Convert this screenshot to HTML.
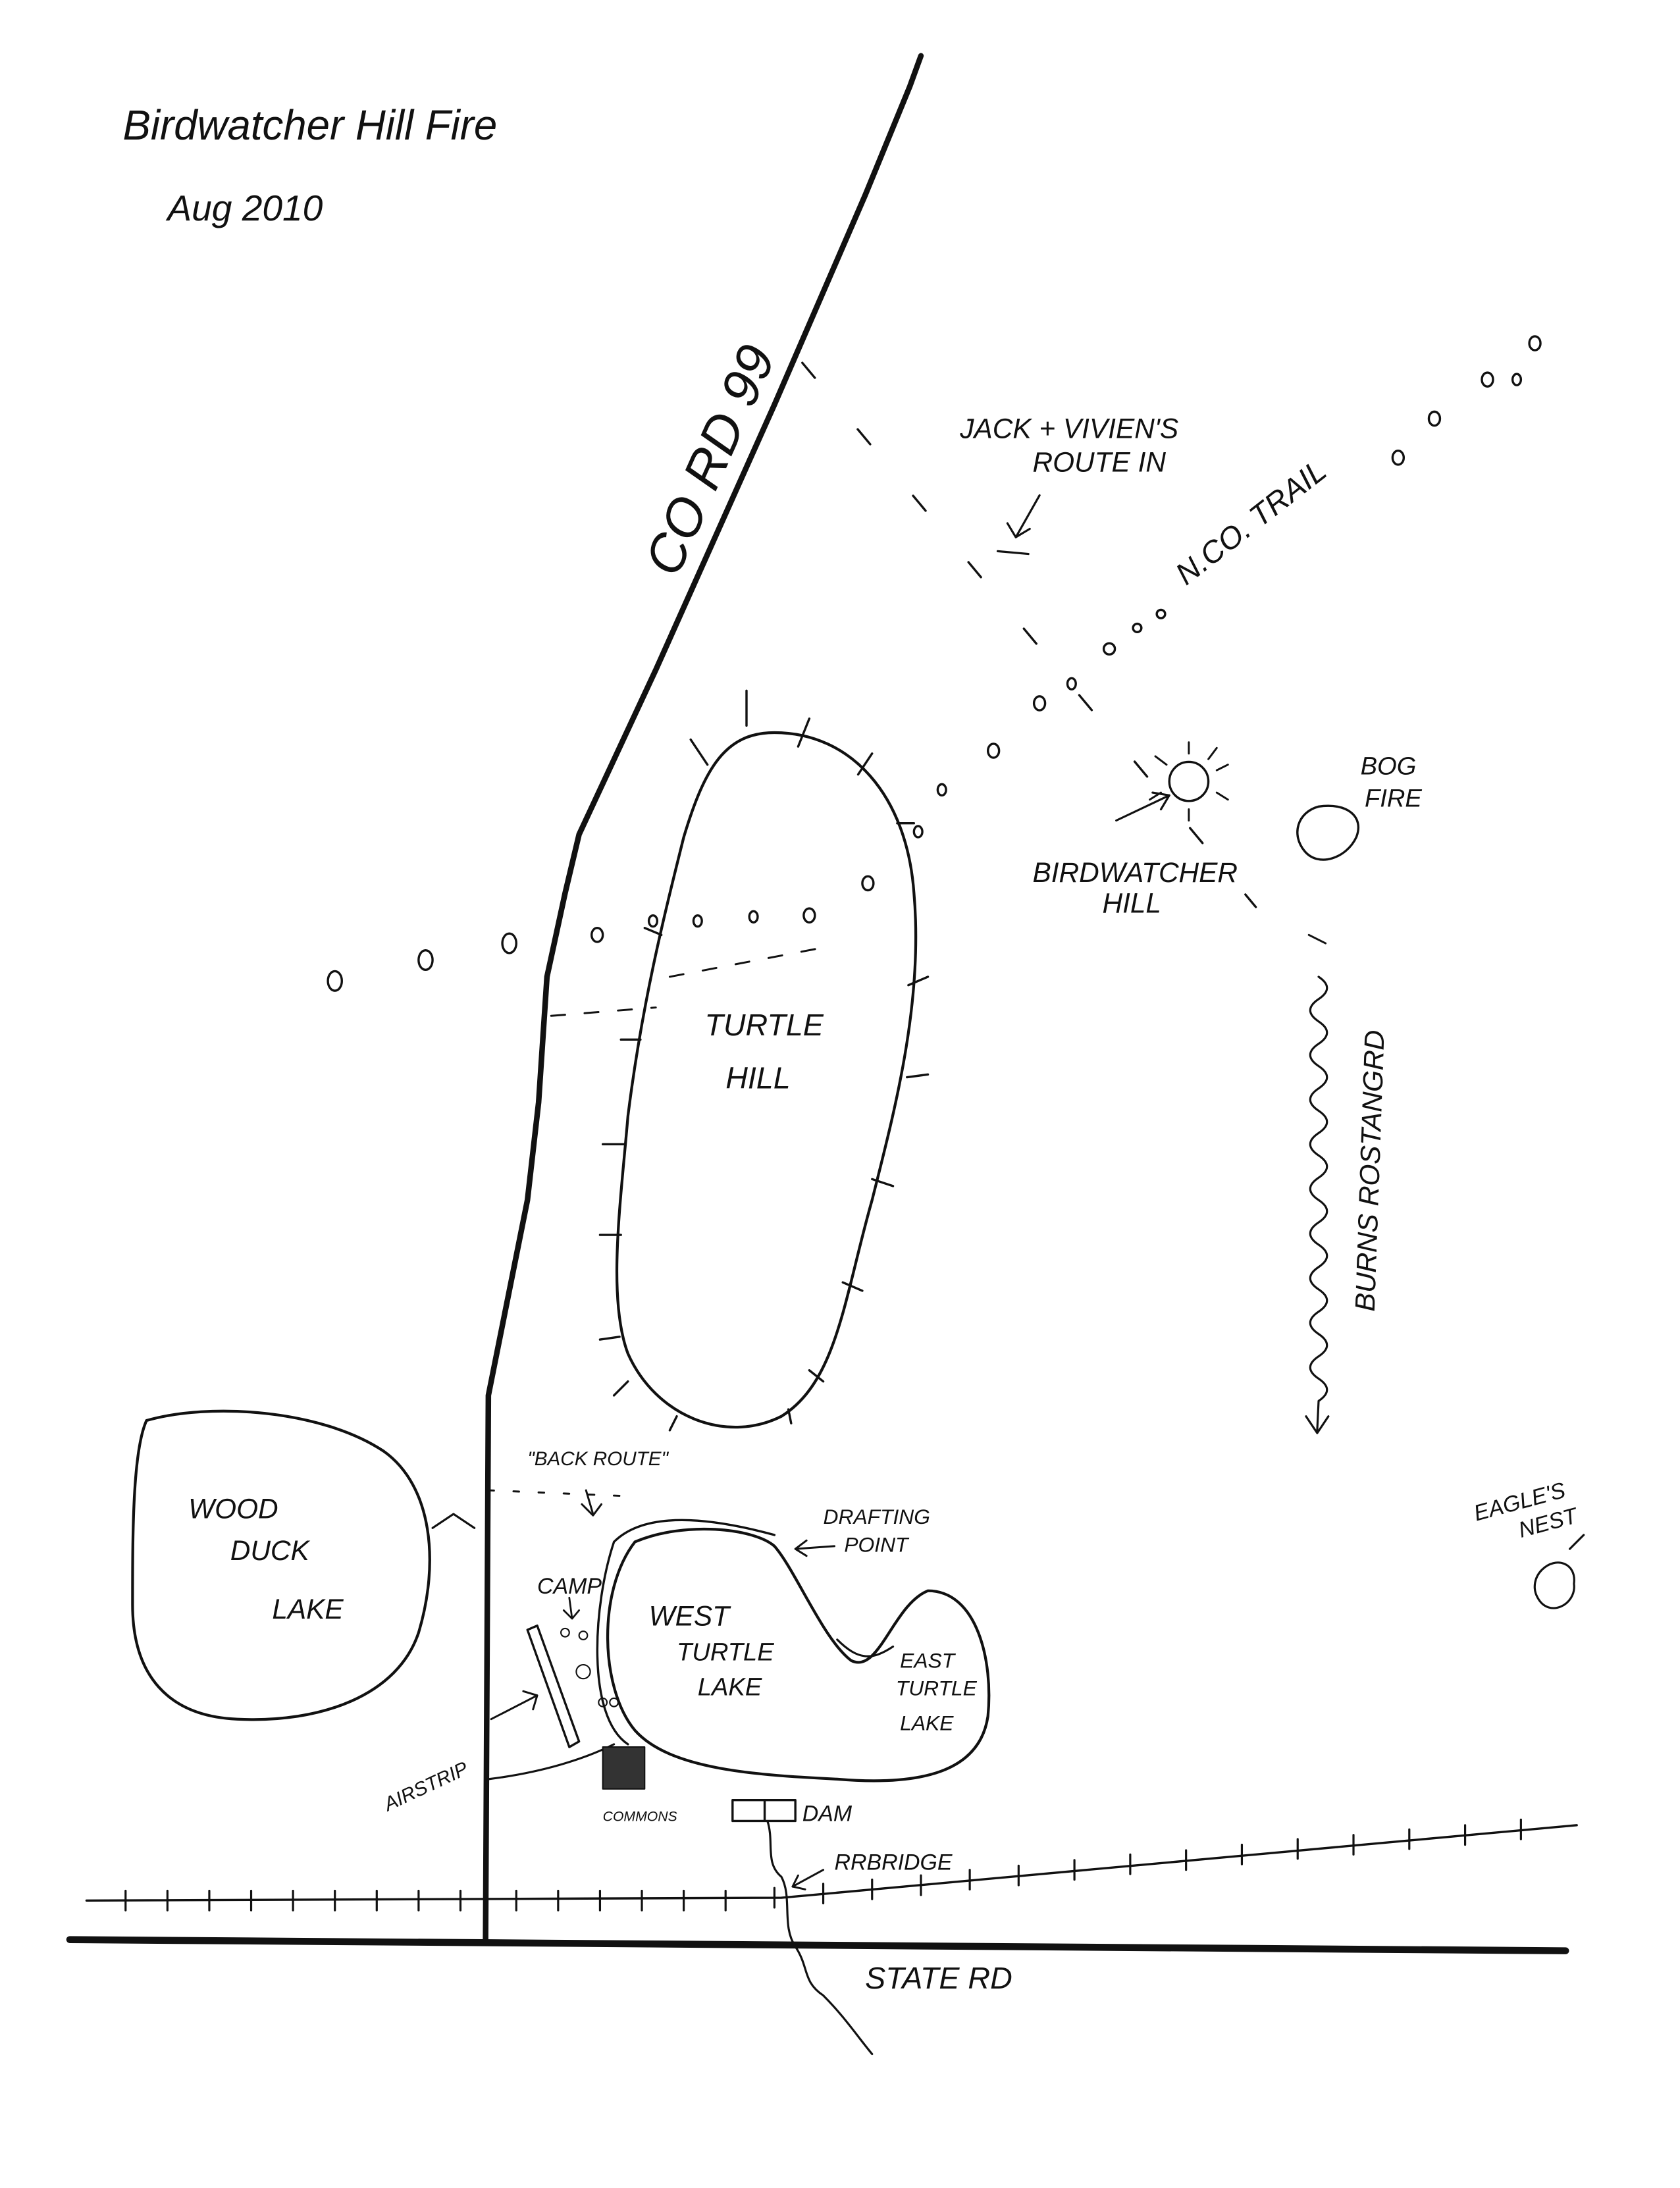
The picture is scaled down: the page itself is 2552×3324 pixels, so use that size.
<!DOCTYPE html>
<html><head><meta charset="utf-8"><style>
html,body{margin:0;padding:0;background:#fff}
svg{display:block}
text{font-family:"Liberation Sans",sans-serif;font-style:italic;fill:#111}
</style></head><body>
<svg width="2552" height="3324" viewBox="0 0 1204 1568" preserveAspectRatio="none" xmlns="http://www.w3.org/2000/svg">
<rect width="1204" height="1568" fill="#fff"/>
<g fill="none" stroke="#111" stroke-linecap="round" stroke-linejoin="round">
<!-- title -->
<!-- main road CO RD -->
<path d="M660 40 L652 62 L620 140 L555 290 L470 480 L415 598 L405 640 L392 700 L386 790 L378 860 L362 940 L350 1000 L348 1390" stroke-width="4"/>
<!-- state road -->
<path d="M50 1390 L1122 1398" stroke-width="5"/>
<!-- railroad -->
<path d="M62 1362 L560 1360 L1130 1308" stroke-width="1.6"/>
<g stroke-width="1.5">
<path d="M90 1355v14M120 1355v14M150 1355v14M180 1355v14M210 1355v14M240 1355v14M270 1355v14M300 1355v14M330 1355v14M370 1355v14M400 1355v14M430 1355v14M460 1355v14M490 1355v14M520 1355v14M555 1353v14M590 1350v14M625 1347v14M660 1344v14M695 1340v14M730 1337v14M770 1333v14M810 1329v14M850 1326v14M890 1322v14M930 1318v14M970 1315v14M1010 1311v14M1050 1308v14M1090 1304v14"/>
</g>
<!-- Turtle hill -->
<path d="M555 525 C610 525 650 570 655 640 C662 720 640 800 625 860 C605 930 600 990 560 1015 C520 1035 470 1015 450 970 C435 930 445 860 450 800 C460 720 475 660 490 600 C505 550 520 525 555 525 Z" stroke-width="2"/>
<g stroke-width="1.6">
<path d="M535 495v25M495 530l12 18M580 515l-8 20M625 540l-10 15M655 590h-12M665 700l-14 6M665 770l-15 2M640 850l-15-5M618 925l-14-6M590 990l-10-8M565 1010l2 10M485 1015l-5 10M440 1000l10-10M430 960l14-2M430 885l15 0M432 820l15 0M445 745l14 0M462 665l12 5"/>
</g>
<!-- dashed route -->
<path d="M575 260 L900 650" stroke-width="1.6" stroke-dasharray="14 48"/>
<path d="M395 728 L470 722 M480 700 L585 680" stroke-width="1.4" stroke-dasharray="10 14"/>
<!-- sun -->
<circle cx="852" cy="560" r="14" stroke-width="1.6"/>
<path d="M852 540v-8M872 552l8-4M872 568l8 5M852 580v8M832 568l-8 5M836 548l-8-6M866 544l6-8" stroke-width="1.4"/>
<path d="M800 588 L838 570 M826 568l12 2-6 10" stroke-width="1.5"/>
<!-- bog fire -->
<path d="M945 578 C965 575 978 585 972 600 C965 615 945 622 935 610 C925 598 930 582 945 578 Z" stroke-width="1.6"/>
<!-- jack arrow -->
<path d="M745 355 L728 385 M722 375l6 10 10-6 M715 395 l22 2" stroke-width="1.5"/>
<!-- squiggle -->
<path d="M945 700 q12 8 0 16 q-12 8 0 16 q12 8 0 16 q-12 8 0 16 q12 8 0 16 q-12 8 0 16 q12 8 0 16 q-12 8 0 16 q12 8 0 16 q-12 8 0 16 q12 8 0 16 q-12 8 0 16 q12 8 0 16 q-12 8 0 16 q12 8 0 16 q-12 8 0 16 q12 8 0 16 q-12 8 0 16 q12 8 0 16 L944 1025 M936 1015l8 12 8-12" stroke-width="1.5"/>
<path d="M938 670 l12 6" stroke-width="1.4"/>
<!-- wood duck lake -->
<path d="M105 1018 C150 1005 230 1010 275 1040 C310 1065 315 1120 300 1170 C285 1215 230 1235 170 1232 C120 1230 95 1200 95 1150 C95 1100 95 1040 105 1018 Z" stroke-width="2"/>
<path d="M310 1095 L325 1085 L340 1095" stroke-width="1.5"/>
<!-- west/east turtle lake -->
<path d="M455 1105 C490 1090 540 1095 555 1108 C570 1125 590 1175 610 1190 C630 1200 640 1150 665 1140 C700 1140 712 1190 708 1230 C702 1270 660 1280 600 1275 C540 1272 480 1268 455 1240 C430 1210 428 1140 455 1105 Z" stroke-width="2"/>
<path d="M600 1175 C615 1190 625 1190 640 1180" stroke-width="1.5"/>
<path d="M440 1105 C425 1150 420 1230 450 1250 M440 1105 C460 1085 500 1085 555 1100" stroke-width="1.6"/>
<path d="M350 1275 C390 1270 420 1260 440 1250" stroke-width="1.5"/>
<path d="M350 1068 L445 1072" stroke-width="1.4" stroke-dasharray="4 14"/>
<path d="M420 1068 L425 1085 M417 1078l8 8 6-8" stroke-width="1.4"/>
<path d="M598 1108 L570 1110 M578 1104l-8 6 8 5" stroke-width="1.4"/>
<!-- airstrip -->
<path d="M378 1168 L385 1165 L415 1248 L408 1252 Z" stroke-width="1.6"/>
<path d="M352 1232 L385 1215 M375 1212l10 3-3 10" stroke-width="1.4"/>
<!-- camp dots -->
<circle cx="405" cy="1170" r="3"/><circle cx="418" cy="1172" r="3"/><circle cx="418" cy="1198" r="5"/><circle cx="432" cy="1220" r="3"/><circle cx="440" cy="1220" r="3"/>
<path d="M408 1145 L410 1160 M404 1154l6 6 5-6" stroke-width="1.3"/>
<!-- commons building -->
<rect x="432" y="1252" width="30" height="30" fill="#333" stroke-width="1"/>
<!-- dam -->
<path d="M525 1290 h45 v15 h-45 Z M548 1290 v15" stroke-width="1.6"/>
<!-- stream -->
<path d="M550 1305 C555 1320 548 1335 560 1345 C568 1360 560 1380 570 1395 C580 1410 575 1420 590 1430 C605 1445 615 1460 625 1472" stroke-width="1.5"/>
<path d="M590 1340 L568 1352 M572 1344l-4 8 9 2" stroke-width="1.4"/>
<!-- eagle's nest -->
<path d="M1105 1125 C1115 1115 1130 1120 1128 1135 C1130 1150 1110 1160 1102 1145 C1098 1138 1100 1130 1105 1125 Z M1125 1110 l10 -10" stroke-width="1.5"/>
</g>
<!-- dotted trail -->
<g fill="none" stroke="#111" stroke-width="1.6">
<ellipse cx="240" cy="703" rx="5" ry="7"/><ellipse cx="305" cy="688" rx="5" ry="7"/><ellipse cx="365" cy="676" rx="5" ry="7"/><ellipse cx="428" cy="670" rx="4" ry="5"/><ellipse cx="468" cy="660" rx="3" ry="4"/><ellipse cx="500" cy="660" rx="3" ry="4"/><ellipse cx="540" cy="657" rx="3" ry="4"/><ellipse cx="580" cy="656" rx="4" ry="5"/><ellipse cx="622" cy="633" rx="4" ry="5"/><ellipse cx="658" cy="596" rx="3" ry="4"/><ellipse cx="675" cy="566" rx="3" ry="4"/><ellipse cx="712" cy="538" rx="4" ry="5"/><ellipse cx="745" cy="504" rx="4" ry="5"/><ellipse cx="768" cy="490" rx="3" ry="4"/><ellipse cx="795" cy="465" rx="4" ry="4"/><ellipse cx="815" cy="450" rx="3" ry="3"/><ellipse cx="832" cy="440" rx="3" ry="3"/><ellipse cx="1002" cy="328" rx="4" ry="5"/><ellipse cx="1028" cy="300" rx="4" ry="5"/><ellipse cx="1066" cy="272" rx="4" ry="5"/><ellipse cx="1100" cy="246" rx="4" ry="5"/><ellipse cx="1087" cy="272" rx="3" ry="4"/>
</g>
<!-- labels -->
<text x="88" y="100" font-size="30">Birdwatcher Hill Fire</text>
<text x="120" y="158" font-size="26">Aug 2010</text>
<text x="0" y="0" font-size="38" transform="translate(485 415) rotate(-66)">CO RD 99</text>
<text x="688" y="314" font-size="20">JACK + VIVIEN'S</text>
<text x="740" y="338" font-size="20">ROUTE IN</text>
<text x="0" y="0" font-size="22" transform="translate(850 420) rotate(-38)">N.CO. TRAIL</text>
<text x="740" y="632" font-size="20">BIRDWATCHER</text>
<text x="790" y="654" font-size="20">HILL</text>
<text x="975" y="555" font-size="18">BOG</text>
<text x="978" y="578" font-size="18">FIRE</text>
<text x="505" y="742" font-size="22">TURTLE</text>
<text x="520" y="780" font-size="22">HILL</text>
<text x="0" y="0" font-size="20" transform="translate(985 940) rotate(-88)">BURNS ROSTANGRD</text>
<text x="135" y="1088" font-size="20">WOOD</text>
<text x="165" y="1118" font-size="20">DUCK</text>
<text x="195" y="1160" font-size="20">LAKE</text>
<text x="378" y="1050" font-size="14">"BACK ROUTE"</text>
<text x="590" y="1092" font-size="15">DRAFTING</text>
<text x="605" y="1112" font-size="15">POINT</text>
<text x="385" y="1142" font-size="16">CAMP</text>
<text x="465" y="1165" font-size="20">WEST</text>
<text x="485" y="1190" font-size="18">TURTLE</text>
<text x="500" y="1215" font-size="18">LAKE</text>
<text x="645" y="1195" font-size="15">EAST</text>
<text x="642" y="1215" font-size="15">TURTLE</text>
<text x="645" y="1240" font-size="15">LAKE</text>
<text x="0" y="0" font-size="14" transform="translate(278 1298) rotate(-25)">AIRSTRIP</text>
<text x="432" y="1305" font-size="10">COMMONS</text>
<text x="575" y="1305" font-size="16">DAM</text>
<text x="598" y="1340" font-size="16">RRBRIDGE</text>
<text x="620" y="1425" font-size="22">STATE RD</text>
<text x="0" y="0" font-size="16" transform="translate(1058 1090) rotate(-15)">EAGLE'S</text>
<text x="0" y="0" font-size="16" transform="translate(1090 1102) rotate(-15)">NEST</text>
</svg>
</body></html>
